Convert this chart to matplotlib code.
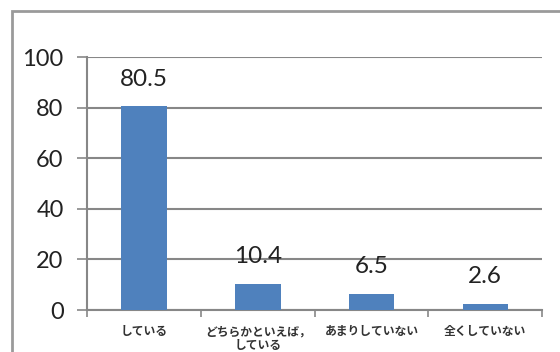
import matplotlib.pyplot as plt
from matplotlib.patches import Rectangle

# 回答区分と割合(%)
categories = ["している", "どちらかといえば，\nしている", "あまりしていない", "全くしていない"]
values = [80.5, 10.4, 6.5, 2.6]
yticks = [0, 20, 40, 60, 80, 100]

BAR_COLOR = "#4F81BD"
LINE_COLOR = "#878787"


def plot_chart(output_path="out.png"):
    fig = plt.figure(figsize=(5.6, 3.52), dpi=100)
    ax = fig.add_axes([0.156, 0.119, 0.812, 0.719])

    # 外枠
    fig.patches.append(Rectangle((12 / 560, -0.05), 1.0, 1 - 11 / 352 + 0.05,
                                 transform=fig.transFigure, fill=False,
                                 edgecolor="#9a9a9a", linewidth=2.0))

    x = range(len(categories))
    ax.bar(x, values, width=0.4, color=BAR_COLOR, zorder=3)

    # 値ラベル
    for i, v in enumerate(values):
        ax.annotate(f"{v}", (i, v), xytext=(0, 12), textcoords="offset points",
                    ha="center", va="bottom", fontsize=17.5, family="Lato",
                    color="#222222")

    ax.set_xlim(-0.5, len(categories) - 0.5)
    ax.set_ylim(0, 100)
    ax.set_yticks(yticks)
    ax.set_yticklabels([str(t) for t in yticks], fontsize=17, family="Lato",
                       color="#222222")
    ax.yaxis.grid(True, color=LINE_COLOR, linewidth=1.5, zorder=0)

    # 区切り目盛り
    ax.set_xticks(list(x))
    ax.set_xticklabels(categories, fontsize=8.5, family="Noto Sans CJK JP",
                       fontweight="bold", linespacing=1.05, color="#333333")
    ax.tick_params(axis="x", which="major", length=0, pad=11)
    ax.set_xticks([i - 0.5 for i in range(len(categories) + 1)], minor=True)
    ax.tick_params(axis="x", which="minor", length=5, color=LINE_COLOR, width=1.2)
    ax.tick_params(axis="y", length=7, color=LINE_COLOR, width=1.2, pad=10)

    for side in ("top", "right"):
        ax.spines[side].set_visible(False)
    for side in ("left", "bottom"):
        ax.spines[side].set_color(LINE_COLOR)
        ax.spines[side].set_linewidth(1.5)

    fig.savefig(output_path, dpi=100)


if __name__ == "__main__":
    plot_chart()
